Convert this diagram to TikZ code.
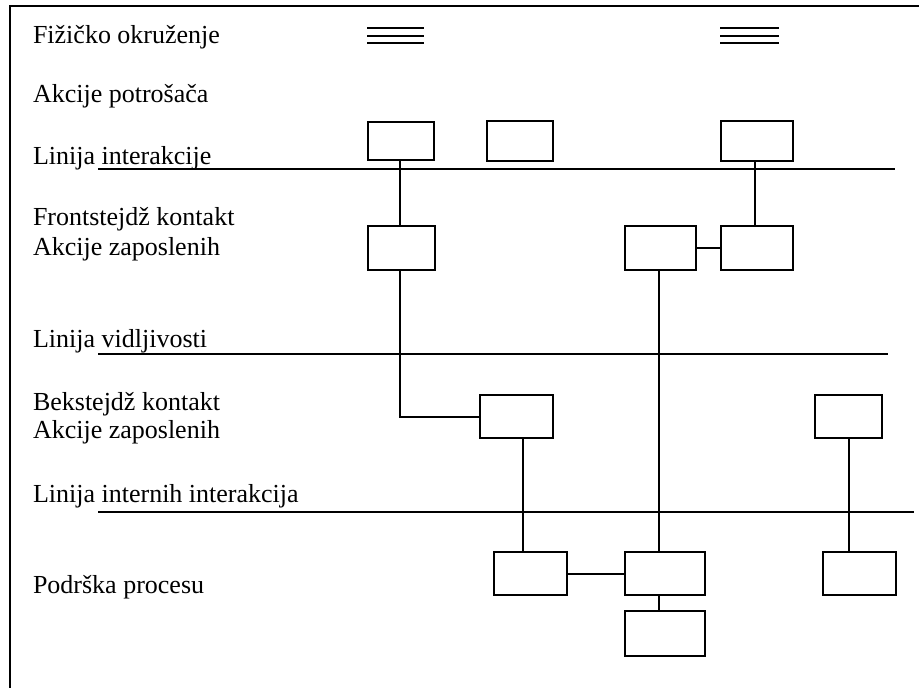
\documentclass[tikz,border=0pt]{standalone}
\usepackage{fontspec}
\setmainfont{Liberation Serif}
\begin{document}
\begin{tikzpicture}[x=1pt,y=-1pt,
  line width=2pt,
  lbl/.style={anchor=base west,inner sep=0pt,font=\fontsize{26}{30}\selectfont},
  card/.style={draw,line width=2pt,inner sep=0pt,minimum width=#1,minimum height=43pt,anchor=north west},
  card/.default=67pt]
\useasboundingbox (0,0) rectangle (919,688);
% outer frame (runs past the right and bottom edges)
\draw (10,6) rectangle (960,720);

% row labels
\node[lbl] (t1)  at (32,43)  {Fižičko okruženje};
\node[lbl] (t2)  at (32,102) {Akcije potrošača};
\node[lbl] (t3)  at (32,164) {Linija interakcije};
\node[lbl] (t4a) at (32,225) {Frontstejdž kontakt};
\node[lbl] (t4b) at (32,255) {Akcije zaposlenih};
\node[lbl] (t5)  at (32,347) {Linija vidljivosti};
\node[lbl] (t6a) at (32,410) {Bekstejdž kontakt};
\node[lbl] (t6b) at (32,438) {Akcije zaposlenih};
\node[lbl] (t7)  at (32,502) {Linija internih interakcija};
\node[lbl] (t8)  at (32,593) {Podrška procesu};

% physical evidence marks
\foreach \x/\w in {367/57,720/59}{
  \foreach \y in {28,36,43}{
    \draw[line width=1.6pt] (\x,\y) -- ++(\w,0);
  }
}

% separating lines
\coordinate (li1) at (98,169);  \coordinate (li2) at (895,169);
\coordinate (lv1) at (98,354);  \coordinate (lv2) at (888,354);
\coordinate (ln1) at (98,512);  \coordinate (ln2) at (914,512);
\draw (li1) -- (li2);
\draw (lv1) -- (lv2);
\draw (ln1) -- (ln2);

% boxes
\node[card=66pt,minimum height=38pt] (A) at (367,121) {};
\node[card=66pt,minimum height=40pt] (B) at (486,120) {};
\node[card=72pt,minimum height=40pt] (C) at (720,120) {};
\node[card=67pt,minimum height=44pt] (D) at (367,225) {};
\node[card=71pt,minimum height=44pt] (E) at (624,225) {};
\node[card=72pt,minimum height=44pt] (F) at (720,225) {};
\node[card=73pt] (G) at (479,394) {};
\node[card=67pt] (I) at (814,394) {};
\node[card=73pt] (H) at (493,551) {};
\node[card=80pt] (K) at (624,551) {};
\node[card=80pt,minimum height=45pt] (L) at (624,610) {};
\node[card=73pt] (J) at (822,551) {};

% connectors
\draw (A.south -| 400,0) -- (D.north -| 400,0);
\draw (C.south -| 755,0) -- (F.north -| 755,0);
\draw (E.east) -- (F.west);
\draw (D.south -| 400,0) |- (G.west);
\draw (G.south -| 523,0) -- (H.north -| 523,0);
\draw (E.south -| 659,0) -- (K.north -| 659,0);
\draw (K.south -| 659,0) -- (L.north -| 659,0);
\draw (H.east) -- (K.west);
\draw (I.south -| 849,0) -- (J.north -| 849,0);
\end{tikzpicture}
\end{document}
